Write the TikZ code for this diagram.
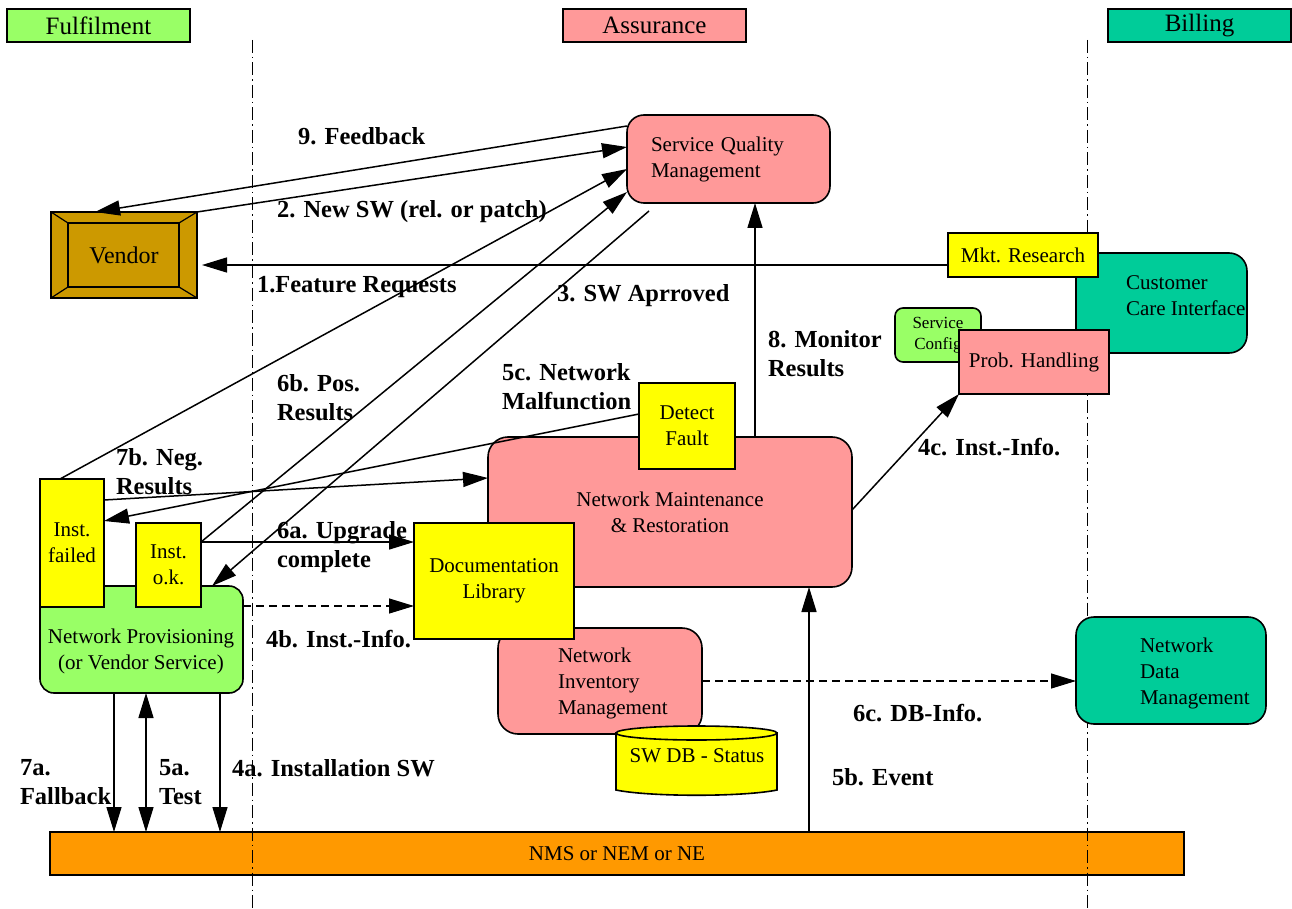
\documentclass[tikz,border=0pt]{standalone}
\usepackage{fontspec}
\setmainfont{Liberation Serif}
\usetikzlibrary{arrows.meta,calc}
\definecolor{cgreen}{HTML}{99FF66}
\definecolor{cpink}{HTML}{FF9999}
\definecolor{cteal}{HTML}{00CC99}
\definecolor{cyellow}{HTML}{FFFF00}
\definecolor{cvendor}{HTML}{CC9900}
\definecolor{corange}{HTML}{FF9900}
\newcommand{\fsreg}{\fontsize{21}{26}\selectfont}
\newcommand{\fslab}{\fontsize{24.5}{29}\selectfont\bfseries}
\newcommand{\fshead}{\fontsize{25}{30}\selectfont}
\newcommand{\fssmall}{\fontsize{17}{21}\selectfont}
\begin{document}
\begin{tikzpicture}[x=1pt,y=-1pt,
  box/.style={draw, line width=1.6pt, inner sep=0pt, outer sep=0pt, align=center, font=\fsreg},
  txt/.style={inner sep=0pt, outer sep=0pt, align=left, font=\fsreg},
  lab/.style={inner sep=0pt, outer sep=0pt, align=left, anchor=west, font=\fslab},
  conn/.style={line width=1.5pt, -{Triangle[length=25pt,width=15pt]}},
  dconn/.style={line width=1.2pt, dash pattern=on 8pt off 5pt, -{Triangle[length=25pt,width=15pt]}},
  lane/.style={line width=1pt, dash pattern=on 13pt off 4pt on 1.5pt off 4pt}]
\useasboundingbox (0,0) rectangle (1292,909);
% NMS bar
\node[box, fill=corange, minimum width=1134pt, minimum height=43pt] (nms) at (617,853.5) {NMS or NEM or NE};
% swim lanes
\coordinate (laneAtop) at (252,40);
\coordinate (laneAbot) at (252,909);
\coordinate (laneBtop) at (1087,40);
\coordinate (laneBbot) at (1087,909);
\draw[lane] (laneAtop) -- (laneAbot);
\draw[lane] (laneBtop) -- (laneBbot);
% headers
\node[box, fill=cgreen, font=\fshead, minimum width=183pt, minimum height=33pt] (fulfil) at (98.5,25.5) {Fulfilment};
\node[box, fill=cpink, font=\fshead, minimum width=183pt, minimum height=33pt] (assur) at (654.5,25.5) {Assurance};
\node[box, fill=cteal, font=\fshead, minimum width=183pt, minimum height=33pt] (billing) at (1199.5,25.5) {Billing};
% vendor
\node[box, fill=cvendor, minimum width=146pt, minimum height=86pt] (vendor) at (124,255) {};
\draw[line width=1.2pt] ($(vendor.north west)+(17,11)$) rectangle ($(vendor.south east)+(-18,-11)$);
\draw[line width=1.2pt] (vendor.north west) -- ++(17,11);
\draw[line width=1.2pt] (vendor.north east) -- ++(-18,11);
\draw[line width=1.2pt] (vendor.south west) -- ++(17,-11);
\draw[line width=1.2pt] (vendor.south east) -- ++(-18,-11);
\node[txt, font=\fontsize{24}{28}\selectfont] (vendortxt) at (124,255) {Vendor};
% service quality management
\node[box, fill=cpink, rounded corners=17pt, minimum width=203pt, minimum height=88pt, inner xsep=24pt, text width=155pt, align=left] (sqm) at (728.5,159) {Service Quality\\Management};
% customer side
\node[box, fill=cteal, rounded corners=18pt, minimum width=171pt, minimum height=100pt] (cci) at (1161.5,303) {};
\node[txt, anchor=west] (ccitxt) at (1126,296) {Customer\\Care Interface};
\node[box, fill=cyellow, minimum width=150pt, minimum height=44pt] (mkt) at (1023,255) {Mkt. Research};
\node[box, fill=cgreen, rounded corners=8pt, minimum width=86pt, minimum height=54pt, font=\fssmall] (sconf) at (938,335) {Service\\Config};
\node[box, fill=cpink, minimum width=150pt, minimum height=64pt] (probh) at (1034,362) {Prob. Handling};
% network maintenance
\node[box, fill=cpink, rounded corners=20pt, minimum width=364pt, minimum height=150pt] (nmr) at (670,512) {Network Maintenance\\\& Restoration};
\node[box, fill=cyellow, minimum width=96pt, minimum height=86pt] (detect) at (687,426) {Detect\\Fault};
\node[box, fill=cpink, rounded corners=20pt, minimum width=204pt, minimum height=106pt] (nim) at (600,681) {};
\node[txt, anchor=west] (nimtxt) at (558,683) {Network\\Inventory\\Management};
\filldraw[fill=cyellow, line width=1.6pt] (616,733) -- (616,790) .. controls (650,797) and (743,797) .. (777,790) -- (777,733) -- cycle;
\filldraw[fill=cyellow, line width=1.6pt] (696.5,733) ellipse [x radius=80.5pt, y radius=7pt];
\node[txt] (swdb) at (697,756) {SW DB - Status};
\node[box, fill=cyellow, minimum width=160pt, minimum height=116pt] (doclib) at (494,581) {Documentation\\Library};
% network data management
\node[box, fill=cteal, rounded corners=18pt, minimum width=190pt, minimum height=107pt] (ndm) at (1171,670.5) {};
\node[txt, anchor=west] (ndmtxt) at (1140,673) {Network\\Data\\Management};
% network provisioning
\node[box, fill=cgreen, rounded corners=14pt, minimum width=203pt, minimum height=107pt] (netprov) at (141.5,639.5) {};
\node[txt, align=center] (netprovtxt) at (141,651) {Network Provisioning\\(or Vendor Service)};
\node[box, fill=cyellow, minimum width=64pt, minimum height=128pt] (instf) at (72,543) {Inst.\\failed};
\node[box, fill=cyellow, minimum width=65pt, minimum height=84pt] (insto) at (168.5,565) {Inst.\\o.k.};
% connectors
\draw[conn] (sqm.west |- 0,126) -- (vendor.north -| 95,0);
\draw[conn] (vendor.north east) -- (sqm.west |- 0,147);
\draw[conn] (mkt.west |- 0,265) -- ($(vendor.east |- 0,265)+(5,0)$);
\draw[conn] (instf.north -| 60,0) -- (sqm.west |- 0,169);
\draw[conn] (insto.east |- 0,542) -- (sqm.west |- 0,192);
\coordinate (swa) at ($(sqm.south west)+(22,8)$);
\draw[conn] (swa) -- (netprov.north -| 212,0);
\draw[conn] (instf.east |- 0,500) -- (nmr.west |- 0,478);
\draw[conn] (detect.west |- 0,414) -- (instf.east |- 0,521);
\draw[conn] (insto.east |- 0,542) -- (doclib.west |- 0,542);
\draw[dconn] (netprov.east |- 0,606) -- (doclib.west |- 0,606);
\draw[conn] (nmr.north -| 755,0) -- (sqm.south -| 755,0);
\draw[conn] (nmr.east |- 0,510) -- (probh.south west);
\draw[conn] (nms.north -| 809,0) -- (nmr.south -| 809,0);
\draw[dconn] (nim.east |- 0,681) -- (ndm.west |- 0,681);
\draw[conn] (netprov.south -| 114,0) -- (nms.north -| 114,0);
\draw[line width=1.5pt, {Triangle[length=25pt,width=15pt]}-{Triangle[length=25pt,width=15pt]}] (netprov.south -| 146,0) -- (nms.north -| 146,0);
\draw[conn] (netprov.south -| 220,0) -- (nms.north -| 220,0);
% labels
\node[lab] (l9) at (298,136) {9. Feedback};
\node[lab] (l2) at (277,212) {2. New SW (rel. or patch)};
\node[lab] (l1) at (257,287) {1.Feature Requests};
\node[lab] (l3) at (557,296) {3. SW Aprroved};
\node[lab] (l8) at (768,354) {8. Monitor\\Results};
\node[lab] (l5c) at (502,386.5) {5c. Network\\Malfunction};
\node[lab] (l6b) at (277,397.5) {6b. Pos.\\Results};
\node[lab] (l7b) at (116,471.5) {7b. Neg.\\Results};
\node[lab] (l6a) at (277,547) {6a. Upgrade\\complete};
\node[lab] (l4b) at (266,639) {4b. Inst.-Info.};
\node[lab] (l4c) at (918,447) {4c. Inst.-Info.};
\node[lab] (l6c) at (853,713) {6c. DB-Info.};
\node[lab] (l5b) at (832,777) {5b. Event};
\node[lab] (l7a) at (20,782.5) {7a.\\Fallback};
\node[lab] (l5a) at (159,782.5) {5a.\\Test};
\node[lab] (l4a) at (232,768) {4a. Installation SW};
\end{tikzpicture}
\end{document}
